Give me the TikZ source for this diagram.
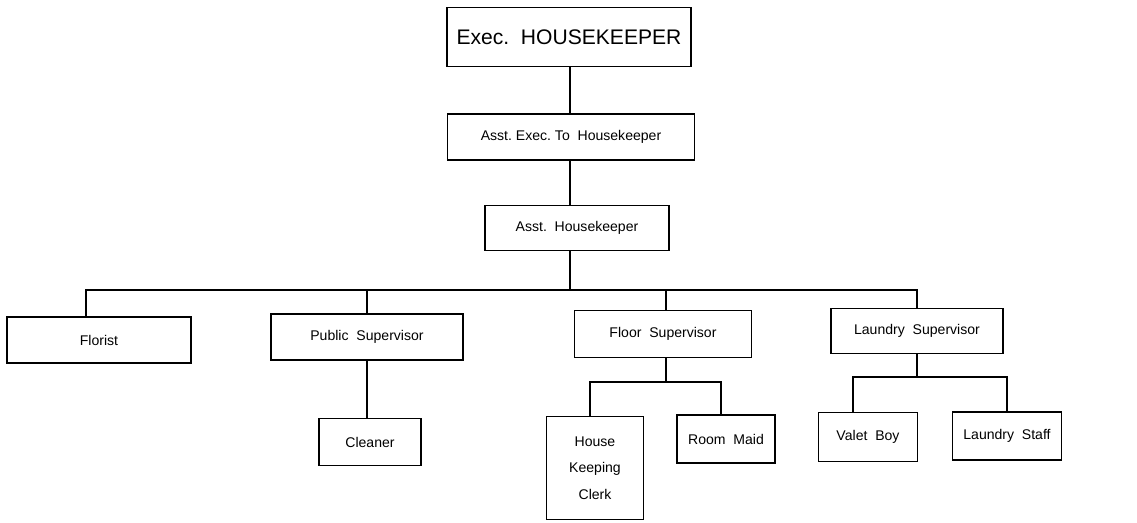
\documentclass[tikz,border=0pt]{standalone}
\usepackage{fontspec}
\setmainfont{Liberation Sans}

\tikzset{
  post/.style = {draw, line width=1.1pt, fill=white, align=center,
    font=\fontsize{8}{15}\selectfont, inner sep=2pt},
  link/.style = {line width=0.9pt}
}

\begin{document}
\begin{tikzpicture}[x=0.02cm,y=-0.02cm]
  \useasboundingbox (0,0) rectangle (1137,523);
  \node[post, minimum width=4.88cm, minimum height=1.18cm,
    font=\fontsize{12}{14}\selectfont] (exec) at (569,37) {Exec.\ \ HOUSEKEEPER};
  \node[post, minimum width=4.94cm, minimum height=0.92cm] (aexec) at (571,137)
    {Asst.\ Exec.\ To\ \ Housekeeper};
  \node[post, minimum width=3.68cm, minimum height=0.9cm] (ahk) at (577,228)
    {Asst.\ \ Housekeeper};

  \node[post, minimum width=3.68cm, minimum height=0.92cm] (florist) at (99,340) {Florist};
  \node[post, minimum width=3.84cm, minimum height=0.92cm] (public) at (367,337)
    {Public\ \ Supervisor};
  \node[post, minimum width=3.54cm, minimum height=0.94cm] (floor) at (663,334)
    {Floor\ \ Supervisor};
  \node[post, minimum width=3.44cm, minimum height=0.9cm] (laundry) at (917,331)
    {Laundry\ \ Supervisor};

  \node[post, minimum width=2.04cm, minimum height=0.94cm] (cleaner) at (370,442) {Cleaner};
  \node[post, minimum width=1.94cm, minimum height=2.06cm] (clerk) at (595,468)
    {House\\Keeping\\Clerk};
  \node[post, minimum width=1.96cm, minimum height=0.96cm] (maid) at (726,439) {Room\ \ Maid};
  \node[post, minimum width=1.98cm, minimum height=0.98cm] (valet) at (868,437) {Valet\ \ Boy};
  \node[post, minimum width=2.18cm, minimum height=0.96cm] (lstaff) at (1007,436)
    {Laundry\ \ Staff};

  \coordinate (bar) at (570,290);
  \coordinate (fbar) at (666,382);
  \coordinate (lbar) at (917,377);

  % main spine
  \draw[link] (bar |- exec.south) -- (bar |- aexec.north);
  \draw[link] (bar |- aexec.south) -- (bar |- ahk.north);
  \draw[link] (bar |- ahk.south) -- (bar);
  \draw[link] ([xshift=-0.26cm]florist.north) |- (bar) -| (laundry.north);
  \draw[link] (bar) -| (public.north);
  \draw[link] (bar) -| (fbar |- floor.north);
  \draw[link] (public) -- (public |- cleaner.north);

  \draw[link] (fbar |- floor.south) -- (fbar);
  \draw[link] ([xshift=-0.1cm]clerk.north) |- (fbar) -| ([xshift=-0.1cm]maid.north);
  \draw[link] (laundry.south) -- (lbar);
  \draw[link] ([xshift=-0.3cm]valet.north) |- (lbar) -| (lstaff.north);
\end{tikzpicture}
\end{document}
